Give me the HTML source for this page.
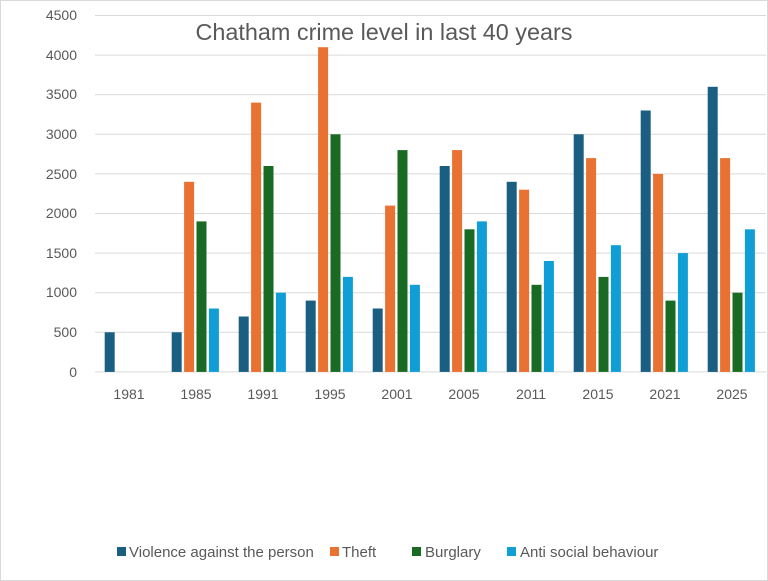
<!DOCTYPE html>
<html><head><style>
body{margin:0;background:#fff;}
svg{display:block;font-family:"Liberation Sans",sans-serif;}
</style></head><body>
<svg width="768" height="581" xmlns="http://www.w3.org/2000/svg">
<rect x="0.5" y="0.5" width="767" height="580" fill="#fff" stroke="#d9d9d9"/>
<g stroke="#d9d9d9" stroke-width="1">
<line x1="95" x2="766" y1="15.5" y2="15.5"/><line x1="95" x2="766" y1="55.1" y2="55.1"/>
<line x1="95" x2="766" y1="94.7" y2="94.7"/><line x1="95" x2="766" y1="134.3" y2="134.3"/>
<line x1="95" x2="766" y1="173.9" y2="173.9"/><line x1="95" x2="766" y1="213.5" y2="213.5"/>
<line x1="95" x2="766" y1="253.1" y2="253.1"/><line x1="95" x2="766" y1="292.7" y2="292.7"/>
<line x1="95" x2="766" y1="332.3" y2="332.3"/><line x1="95" x2="766" y1="371.9" y2="371.9"/>
</g>
<g font-size="14" fill="#595959" text-anchor="end">
<text x="77" y="20">4500</text><text x="77" y="60">4000</text><text x="77" y="99">3500</text>
<text x="77" y="139">3000</text><text x="77" y="179">2500</text><text x="77" y="218">2000</text>
<text x="77" y="258">1500</text><text x="77" y="297">1000</text><text x="77" y="337">500</text>
<text x="77" y="377">0</text>
</g>
<text x="384" y="40" font-size="23.4" fill="#595959" text-anchor="middle">Chatham crime level in last 40 years</text>
<g fill="#1a5e82">
<rect x="104.7" y="332.3" width="10" height="39.6"/>
<rect x="171.7" y="332.3" width="10" height="39.6"/>
<rect x="238.7" y="316.5" width="10" height="55.4"/>
<rect x="305.7" y="300.6" width="10" height="71.3"/>
<rect x="372.7" y="308.5" width="10" height="63.4"/>
<rect x="439.7" y="166.0" width="10" height="205.9"/>
<rect x="506.7" y="181.8" width="10" height="190.1"/>
<rect x="573.7" y="134.3" width="10" height="237.6"/>
<rect x="640.7" y="110.5" width="10" height="261.4"/>
<rect x="707.7" y="86.8" width="10" height="285.1"/>
</g>
<g fill="#e97132">
<rect x="184.1" y="181.8" width="10" height="190.1"/>
<rect x="251.1" y="102.6" width="10" height="269.3"/>
<rect x="318.1" y="47.2" width="10" height="324.7"/>
<rect x="385.1" y="205.6" width="10" height="166.3"/>
<rect x="452.1" y="150.1" width="10" height="221.8"/>
<rect x="519.1" y="189.7" width="10" height="182.2"/>
<rect x="586.1" y="158.1" width="10" height="213.8"/>
<rect x="653.1" y="173.9" width="10" height="198"/>
<rect x="720.1" y="158.1" width="10" height="213.8"/>
</g>
<g fill="#196b24">
<rect x="196.5" y="221.4" width="10" height="150.5"/>
<rect x="263.5" y="166.0" width="10" height="205.9"/>
<rect x="330.5" y="134.3" width="10" height="237.6"/>
<rect x="397.5" y="150.1" width="10" height="221.8"/>
<rect x="464.5" y="229.3" width="10" height="142.6"/>
<rect x="531.5" y="284.8" width="10" height="87.1"/>
<rect x="598.5" y="276.9" width="10" height="95"/>
<rect x="665.5" y="300.6" width="10" height="71.3"/>
<rect x="732.5" y="292.7" width="10" height="79.2"/>
</g>
<g fill="#0f9ed5">
<rect x="208.9" y="308.5" width="10" height="63.4"/>
<rect x="275.9" y="292.7" width="10" height="79.2"/>
<rect x="342.9" y="276.9" width="10" height="95"/>
<rect x="409.9" y="284.8" width="10" height="87.1"/>
<rect x="476.9" y="221.4" width="10" height="150.5"/>
<rect x="543.9" y="261.0" width="10" height="110.9"/>
<rect x="610.9" y="245.2" width="10" height="126.7"/>
<rect x="677.9" y="253.1" width="10" height="118.8"/>
<rect x="744.9" y="229.3" width="10" height="142.6"/>
</g>
<g font-size="14" fill="#595959" text-anchor="middle">
<text x="129" y="399">1981</text><text x="196" y="399">1985</text><text x="263" y="399">1991</text>
<text x="330" y="399">1995</text><text x="397" y="399">2001</text><text x="464" y="399">2005</text>
<text x="531" y="399">2011</text><text x="598" y="399">2015</text><text x="665" y="399">2021</text>
<text x="732" y="399">2025</text>
</g>
<g font-size="15" fill="#595959">
<rect x="117" y="547" width="9" height="9" fill="#1a5e82"/><text x="129" y="557">Violence against the person</text>
<rect x="330" y="547" width="9" height="9" fill="#e97132"/><text x="342" y="557">Theft</text>
<rect x="412" y="547" width="9" height="9" fill="#196b24"/><text x="425" y="557">Burglary</text>
<rect x="507" y="547" width="9" height="9" fill="#0f9ed5"/><text x="520" y="557">Anti social behaviour</text>
</g>
</svg>
</body></html>
